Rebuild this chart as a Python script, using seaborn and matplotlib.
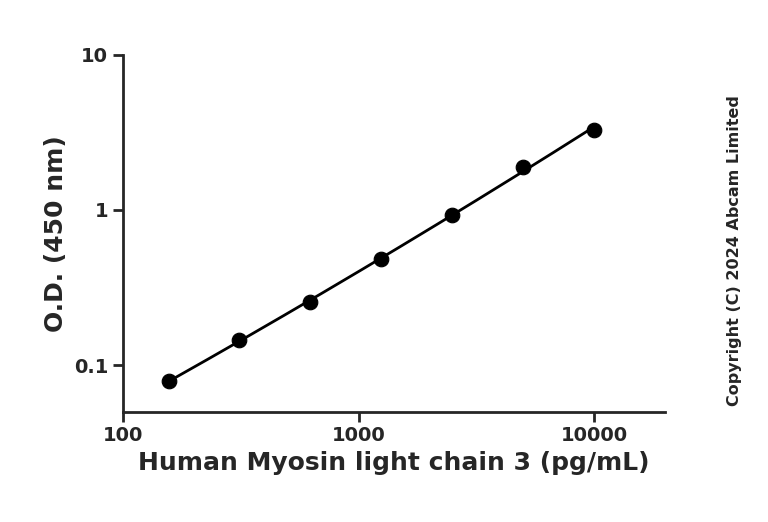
"""ELISA standard curve: Human Myosin light chain 3."""

import numpy as np
import matplotlib
matplotlib.use("Agg")
import matplotlib.pyplot as plt
import seaborn as sns

conc = [156.25, 312.5, 625, 1250, 2500, 5000, 10000]
od = [0.079, 0.145, 0.255, 0.48, 0.93, 1.9, 3.3]

sns.set_style("ticks")
plt.rcParams["font.family"] = ["DejaVu Sans"]
plt.rcParams["font.weight"] = "bold"

fig = plt.figure(figsize=(7.68, 5.22), dpi=100)
ax = fig.add_axes([0.16, 0.211, 0.706, 0.684])

# smooth curve: quadratic fit in log-log space
lx, ly = np.log10(conc), np.log10(od)
coef = np.polyfit(lx, ly, 2)
xs = np.linspace(lx[0], lx[-1], 200)
ax.plot(10 ** xs, 10 ** np.polyval(coef, xs), color="black", lw=2)
sns.scatterplot(x=conc, y=od, ax=ax, color="black", s=110, edgecolor="black", zorder=3)

ax.set_xscale("log")
ax.set_yscale("log")
ax.set_xlim(100, 20000)
ax.set_ylim(0.05, 10)
ax.set_xticks([100, 1000, 10000])
ax.set_xticklabels(["100", "1000", "10000"])
ax.set_yticks([0.1, 1, 10])
ax.set_yticklabels(["0.1", "1", "10"])
ax.minorticks_off()
ax.tick_params(axis="both", which="major", labelsize=14, width=2, length=7, direction="out")
for lab in ax.get_xticklabels() + ax.get_yticklabels():
    lab.set_fontweight("bold")
sns.despine(ax=ax)
for s in ["left", "bottom"]:
    ax.spines[s].set_linewidth(2)

ax.set_xlabel("Human Myosin light chain 3 (pg/mL)", fontsize=18, fontweight="bold")
ax.set_ylabel("O.D. (450 nm)", fontsize=18, fontweight="bold")

fig.text(0.957, 0.52, "Copyright (C) 2024 Abcam Limited", rotation=90,
         ha="center", va="center", fontsize=11.5, fontweight="bold")

fig.savefig("out.png", dpi=100)
